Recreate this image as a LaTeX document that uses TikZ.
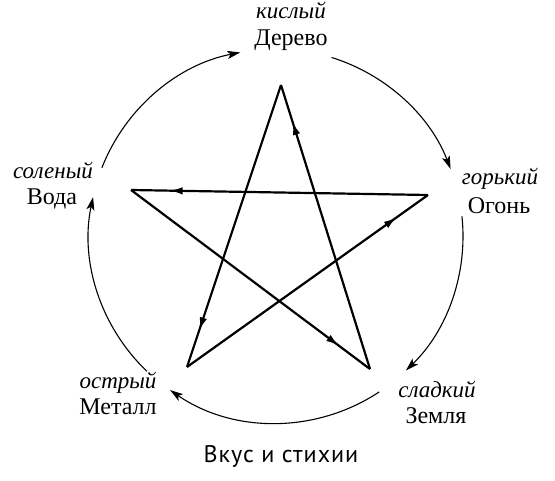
\documentclass[tikz,border=0pt]{standalone}
\usepackage{fontspec}
\setmainfont{Liberation Serif}
\newfontfamily\capfont[LetterSpace=4]{PT Sans}
\usetikzlibrary{arrows.meta,decorations.markings}
\tikzset{
  lbl/.style={font=\fontsize{24}{26}\selectfont, inner sep=0pt, anchor=base},
  ilbl/.style={font=\fontsize{23}{26}\selectfont\itshape, inner sep=0pt, anchor=base},
  starline/.style={line width=2.2pt, line join=miter,
    postaction={decorate},
    decoration={markings, mark=at position 0.87 with {\arrow{Latex[length=13pt,width=7.5pt]}}}},
  circarc/.style={line width=1.1pt, -{Stealth[length=13pt,width=8pt,inset=3pt]}}
}
\begin{document}
\begin{tikzpicture}[x=1pt,y=1pt]
\useasboundingbox (0,0) rectangle (555,-481);
\coordinate (c) at (276,-236);
% labels
\node[ilbl] (t1) at (291,-19) {кислый};
\node[lbl]  (n1) at (291,-46) {Дерево};
\node[ilbl] (t2) at (500,-185) {горький};
\node[lbl]  (n2) at (499,-214) {Огонь};
\node[ilbl] (t3) at (437,-398) {сладкий};
\node[lbl]  (n3) at (436,-424) {Земля};
\node[ilbl] (t4) at (118,-389) {острый};
\node[lbl]  (n4) at (118,-414) {Металл};
\node[ilbl] (t5) at (53,-179) {соленый};
\node[lbl]  (n5) at (52,-205) {Вода};
\node[font=\fontsize{24}{26}\selectfont\capfont, inner sep=0pt, anchor=base] (cap) at (281,-462) {Вкус и стихии};
% circle arcs
\draw[circarc] ([shift={(158.6:187)}]c) arc[start angle=158.6, end angle=101, radius=187];
\draw[circarc] ([shift={(72.7:187)}]c) arc[start angle=72.7, end angle=21, radius=187];
\draw[circarc] ([shift={(6:187)}]c) arc[start angle=6, end angle=-46, radius=187];
\draw[circarc] ([shift={(-56.5:187)}]c) arc[start angle=-56.5, end angle=-124.5, radius=187];
\draw[circarc] ([shift={(-133.7:187)}]c) arc[start angle=-133.7, end angle=-192, radius=187];
% star
\coordinate (T) at (281,-85);
\coordinate (R) at (428,-195);
\coordinate (BR) at (370,-369);
\coordinate (BL) at (187,-367);
\coordinate (L) at (131,-190);
\draw[starline] (T) -- (BL);
\draw[starline] (BL) -- (R);
\draw[starline] (R) -- (L);
\draw[starline] (L) -- (BR);
\draw[starline] (BR) -- (T);
\end{tikzpicture}
\end{document}
